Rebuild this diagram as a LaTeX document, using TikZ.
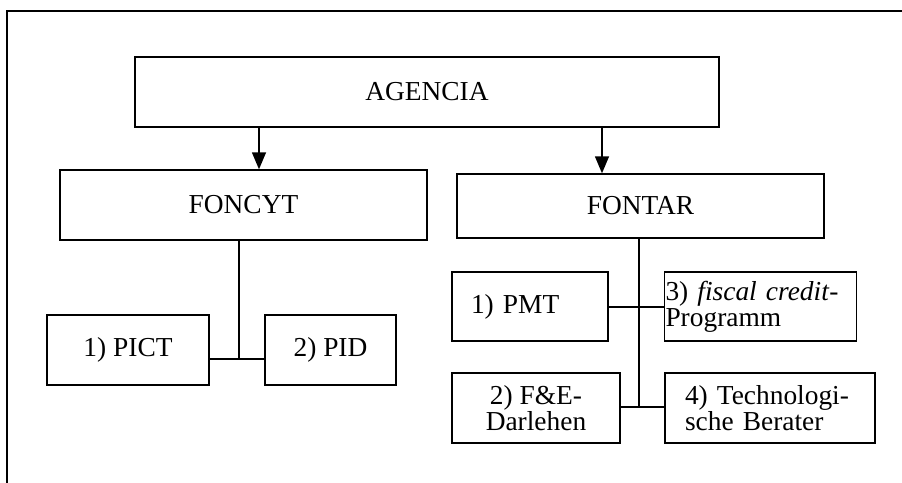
\documentclass[tikz,border=0pt]{standalone}
\usepackage{fontspec}
\setmainfont{Liberation Serif}
\usetikzlibrary{positioning, arrows.meta}

\begin{document}
\begin{tikzpicture}[
    x=0.5pt, y=-0.5pt,
    font=\fontsize{13.7}{12.9}\selectfont,
    box/.style={rectangle, draw, line width=0.7pt, inner sep=0pt, minimum height=35pt},
    line/.style={draw, line width=0.7pt},
    arrow/.style={draw, line width=0.7pt, -{Triangle[length=8.5pt, width=7pt]}}
]
    \clip (0,0) rectangle (902,483);
    % frame (runs off the right and bottom edge)
    \draw[line] (7,11) rectangle (930,510);

    % Top level
    \node[box, minimum width=292pt] (agencia) at (427,92) {AGENCIA};

    % Funds
    \node[box, minimum width=183.5pt] (foncyt) at (243.5,205) {FONCYT};
    \node[box, minimum width=183.5pt, minimum height=32pt] (fontar) at (640.5,206) {FONTAR};

    % Programs of FONCYT
    \node[box, minimum width=81pt] (pict) at (128,350) {1) PICT};
    \node[box, minimum width=65.5pt] (pid) at (330.5,350) {2) PID};

    % Programs of FONTAR
    \node[box, minimum width=78pt, minimum height=34.5pt, text width=59pt, align=left, inner xsep=9.5pt] (pmt) at (530,306.5) {1) PMT};
    \node[box, minimum width=95.5pt, minimum height=34.5pt, text width=95pt, align=left, inner xsep=0.5pt] (fiscal) at (760.5,306.5) {3) \textit{fiscal credit}-\\Programm};
    \node[box, minimum width=84pt, align=center] (fue) at (536,408) {2) F\&E-\\Darlehen};
    \node[box, minimum width=105pt, text width=85pt, align=left, inner xsep=10pt] (tech) at (770,408) {4) Technologi-\\sche Berater};

    % Branch points
    \coordinate (a1) at (259,0);
    \coordinate (a2) at (602,0);
    \coordinate (j1) at (239,359);
    \coordinate (j2) at (639,407);
    \coordinate (j3) at (639,307);

    % Arrows from AGENCIA
    \draw[arrow] (agencia.south -| a1) -- (foncyt.north -| a1);
    \draw[arrow] (agencia.south -| a2) -- (fontar.north -| a2);

    % FONCYT tree
    \draw[line] (foncyt.south -| j1) -- (j1);
    \draw[line] (pict.east |- j1) -- (pid.west |- j1);

    % FONTAR tree
    \draw[line] (fontar.south -| j2) -- (j2);
    \draw[line] (pmt.east |- j3) -- (fiscal.west |- j3);
    \draw[line] (fue.east |- j2) -- (tech.west |- j2);

\end{tikzpicture}
\end{document}
